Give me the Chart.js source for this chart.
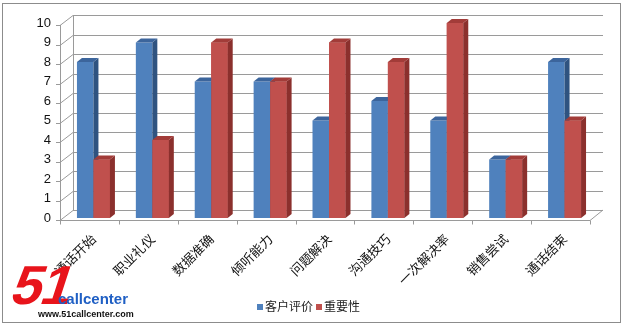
<!DOCTYPE html>
<html>
<head>
<meta charset="utf-8">
<script src="https://cdn.jsdelivr.net/npm/chart.js@4.4.1/dist/chart.umd.min.js"></script>
<style>
  html, body { margin: 0; padding: 0; background: #fff; }
  #wrap { position: relative; width: 624px; height: 327px; }
  #chart { position: absolute; left: 0; top: 0; }
  .legend { position: absolute; top: 297px; font: 12px "Noto Sans CJK SC", sans-serif; color: #222; white-space: nowrap; }
  .legend span.box { display: inline-block; width: 6px; height: 6px; margin-right: 2px; vertical-align: 1px; }
  .logo51 { position: absolute; left: 4px; top: 253px; font: bold 55px "Liberation Sans", Arial, sans-serif; color: #e8141b; letter-spacing: -1px; transform: skewX(-18deg); transform-origin: left bottom; }
  .logoCall { position: absolute; left: 58px; top: 290px; font: bold 15px "Liberation Sans", Arial, sans-serif; color: #1f5fc4; }
  .logoUrl { position: absolute; left: 38px; top: 309px; font: bold 9px "Liberation Sans", Arial, sans-serif; color: #111; }
</style>
</head>
<body>
<div id="wrap">
  <canvas id="chart" width="624" height="327"></canvas>
  <div class="logo51">51</div>
  <div class="logoCall">callcenter</div>
  <div class="logoUrl">www.51callcenter.com</div>
  <div id="legend"></div>
</div>
<script>
// data
const categories = ['通话开始', '职业礼仪', '数据准确', '倾听能力', '问题解决', '沟通技巧', '一次解决率', '销售尝试', '通话结束'];
const seriesNames = ['客户评价', '重要性'];
const ratingValues = [8, 9, 7, 7, 5, 6, 5, 3, 8];
const importanceValues = [3, 4, 9, 7, 9, 8, 10, 3, 5];
const yMin = 0;
const yMax = 10;
const yStep = 1;

// colours for front / side / top faces
const frontColors = ['#4f81bd', '#c0504d'];
const sideColors = ['#2f5380', '#8b302d'];
const topColors = ['#3c659c', '#a23c39'];

// 3D offsets
const FRONT = { x: -4, y: 2 };   // front plane (axis + floor edge)
const BACK = { x: 9, y: -8 };    // back wall
const DEPTH = { x: 5, y: -4 };   // bar depth

const drawFaces = (ctx, el, i) => {
    const left = el.x - el.width / 2;
    const right = el.x + el.width / 2;
    const top = el.y;
    const base = el.base;
    // side face
    ctx.fillStyle = sideColors[i];
    ctx.beginPath();
    ctx.moveTo(right, top);
    ctx.lineTo(right + DEPTH.x, top + DEPTH.y);
    ctx.lineTo(right + DEPTH.x, base + DEPTH.y);
    ctx.lineTo(right, base);
    ctx.closePath();
    ctx.fill();
    // top face
    ctx.fillStyle = topColors[i];
    ctx.beginPath();
    ctx.moveTo(left, top);
    ctx.lineTo(left + DEPTH.x, top + DEPTH.y);
    ctx.lineTo(right + DEPTH.x, top + DEPTH.y);
    ctx.lineTo(right, top);
    ctx.closePath();
    ctx.fill();
};

const box3d = {
    id: 'box3d',
    beforeDraw(chart) {
        const ctx = chart.ctx;
        ctx.save();
        ctx.strokeStyle = '#8c8c8c';
        ctx.lineWidth = 1;
        ctx.strokeRect(2.5, 3.5, 618, 319);
        ctx.restore();
    },
    beforeDatasetsDraw(chart) {
        const ctx = chart.ctx;
        const { left, right } = chart.chartArea;
        const ys = chart.scales.y;
        const y0 = ys.getPixelForValue(yMin);
        const yTop = ys.getPixelForValue(yMax);
        ctx.save();
        ctx.strokeStyle = '#9a9a9a';
        ctx.lineWidth = 1;
        ctx.beginPath();
        for (let v = yMin; v <= yMax; v += yStep) {
            const y = Math.round(ys.getPixelForValue(v)) + 0.5;
            // back wall line
            ctx.moveTo(left + BACK.x, y + BACK.y);
            ctx.lineTo(right + BACK.x, y + BACK.y);
            // side wall diagonal
            ctx.moveTo(left + FRONT.x, y + FRONT.y);
            ctx.lineTo(left + BACK.x, y + BACK.y);
            // tick mark
            ctx.moveTo(left + FRONT.x - 4, y + FRONT.y);
            ctx.lineTo(left + FRONT.x, y + FRONT.y);
        }
        // vertical axis (front) and back wall corner
        const ax = Math.round(left + FRONT.x) + 0.5;
        ctx.moveTo(ax, yTop + FRONT.y);
        ctx.lineTo(ax, y0 + FRONT.y);
        ctx.moveTo(left + BACK.x + 0.5, yTop + BACK.y);
        ctx.lineTo(left + BACK.x + 0.5, y0 + BACK.y);
        // floor front edge and right edge
        const fy = Math.round(y0 + FRONT.y) + 0.5;
        ctx.moveTo(left + FRONT.x, fy);
        ctx.lineTo(right + FRONT.x, fy);
        ctx.lineTo(right + BACK.x, y0 + BACK.y);
        // category separators under the floor
        const w = (right - left) / categories.length;
        for (let k = 0; k <= categories.length; k++) {
            const x = Math.round(left + FRONT.x + k * w) + 0.5;
            ctx.moveTo(x, fy);
            ctx.lineTo(x, fy + 4);
        }
        ctx.stroke();
        ctx.restore();
    },
    afterDatasetsDraw(chart) {
        const ctx = chart.ctx;
        const m0 = chart.getDatasetMeta(0).data;
        const m1 = chart.getDatasetMeta(1).data;
        ctx.save();
        for (let c = 0; c < categories.length; c++) {
            drawFaces(ctx, m0[c], 0);
            // redraw red front face over blue side face
            const el = m1[c];
            ctx.fillStyle = frontColors[1];
            ctx.fillRect(el.x - el.width / 2, el.y, el.width, el.base - el.y);
            drawFaces(ctx, el, 1);
        }
        ctx.restore();
    }
};

const ctx = document.getElementById('chart').getContext('2d');
const chart = new Chart(ctx, {
    type: 'bar',
    data: {
        labels: categories,
        datasets: [
            { label: seriesNames[0], data: ratingValues, backgroundColor: frontColors[0], borderWidth: 0 },
            { label: seriesNames[1], data: importanceValues, backgroundColor: frontColors[1], borderWidth: 0 }
        ]
    },
    options: {
        responsive: false,
        animation: false,
        events: [],
        layout: { padding: { left: 0, right: 30, top: 23, bottom: 0 } },
        datasets: { bar: { categoryPercentage: 0.56, barPercentage: 1 } },
        plugins: { legend: { display: false }, tooltip: { enabled: false } },
        scales: {
            x: {
                grid: { display: false, drawTicks: false },
                border: { display: false },
                ticks: {
                    maxRotation: 45,
                    minRotation: 45,
                    padding: 13,
                    color: '#111',
                    font: { family: '"Noto Sans CJK SC", sans-serif', size: 13 }
                },
                afterFit: (s) => { s.height = 109; }
            },
            y: {
                min: yMin,
                max: yMax,
                grid: { display: false, drawTicks: false },
                border: { display: false },
                ticks: {
                    stepSize: yStep,
                    padding: 13,
                    color: '#111',
                    font: { family: '"Liberation Sans", Arial, sans-serif', size: 13 }
                },
                afterFit: (s) => { s.width = 64; }
            }
        }
    },
    plugins: [box3d]
});

// legend built from the series
const legend = document.getElementById('legend');
const legendX = [257, 316];
seriesNames.forEach((name, i) => {
    const d = document.createElement('div');
    d.className = 'legend';
    d.style.left = legendX[i] + 'px';
    d.innerHTML = '<span class="box" style="background:' + frontColors[i] + '"></span>' + name;
    legend.appendChild(d);
});
</script>
</body>
</html>
